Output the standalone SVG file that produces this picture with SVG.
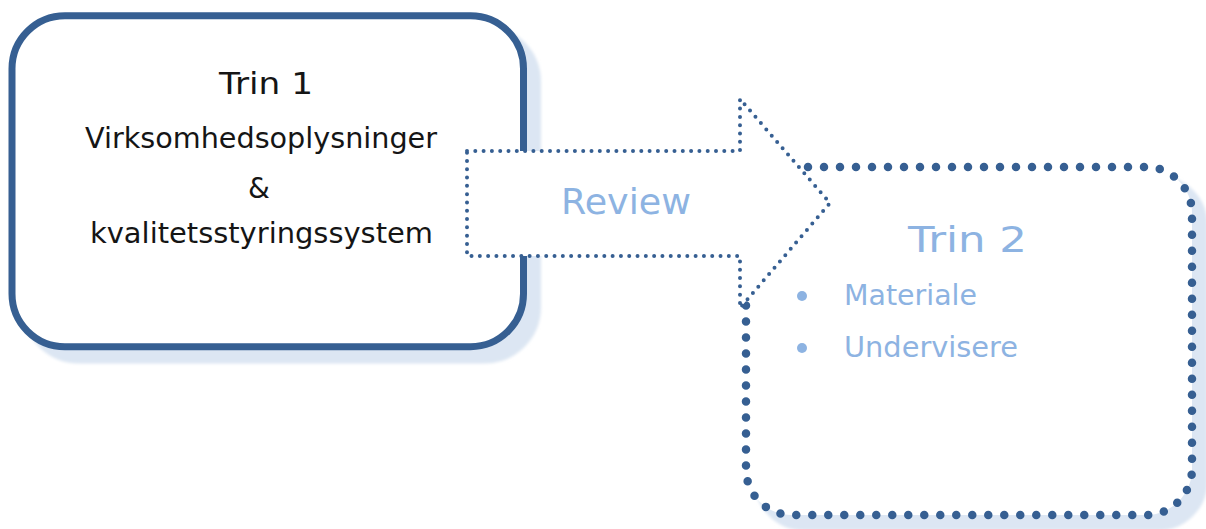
<svg xmlns="http://www.w3.org/2000/svg" width="1206" height="529" viewBox="0 0 1206 529">
<style>
.shadow{fill:#dce6f3;stroke:#dce6f3;stroke-width:7}
.box1{fill:#ffffff;stroke:#365f92;stroke-width:7}
.box2{fill:#ffffff;stroke:#365f92;stroke-width:8.5;stroke-dasharray:0 16;stroke-linecap:round}
.arrow{fill:#ffffff;stroke:#365f92;stroke-width:4;stroke-dasharray:0 8.3;stroke-linecap:round;stroke-linejoin:round}
.dark{font-family:"DejaVu Sans","Liberation Sans",sans-serif;fill:#151515;text-anchor:middle}
.light{font-family:"DejaVu Sans","Liberation Sans",sans-serif;fill:#8db3e2}
</style>
<defs>
<filter id="blur" x="-5%" y="-5%" width="110%" height="110%"><feGaussianBlur stdDeviation="1.5"/></filter>
</defs>
<g id="trin1">
<rect class="shadow" x="26" y="29" width="511.5" height="331" rx="53" filter="url(#blur)"/>
<rect class="box1" x="12" y="15.7" width="511.5" height="331" rx="53"/>
<text class="dark" x="266" y="94" font-size="30" textLength="94" lengthAdjust="spacingAndGlyphs">Trin 1</text>
<text class="dark" x="261" y="148" font-size="28" textLength="352" lengthAdjust="spacingAndGlyphs">Virksomhedsoplysninger</text>
<text class="dark" x="259" y="198" font-size="28">&amp;</text>
<text class="dark" x="261.5" y="243" font-size="28" textLength="343" lengthAdjust="spacingAndGlyphs">kvalitetsstyringssystem</text>
</g>
<g id="trin2">
<rect class="shadow" x="758" y="179" width="446" height="348" rx="46" filter="url(#blur)"/>
<rect class="box2" x="746" y="167" width="446" height="348" rx="46"/>
<text class="light" x="908" y="252" font-size="36" textLength="119" lengthAdjust="spacingAndGlyphs">Trin 2</text>
<circle cx="802" cy="296" r="5" fill="#8db3e2"/>
<text class="light" x="844" y="305" font-size="28" textLength="133" lengthAdjust="spacingAndGlyphs">Materiale</text>
<circle cx="802" cy="348" r="5" fill="#8db3e2"/>
<text class="light" x="844" y="357" font-size="28" textLength="174" lengthAdjust="spacingAndGlyphs">Undervisere</text>
</g>
<g id="connectors">
<g id="review-arrow">
<path class="arrow" d="M467,151 L740,151 L740,99 L830,203 L740,308 L740,256 L467,256 Z"/>
<text class="light" x="561" y="214" font-size="35" textLength="130" lengthAdjust="spacingAndGlyphs">Review</text>
</g>
</g>
</svg>
